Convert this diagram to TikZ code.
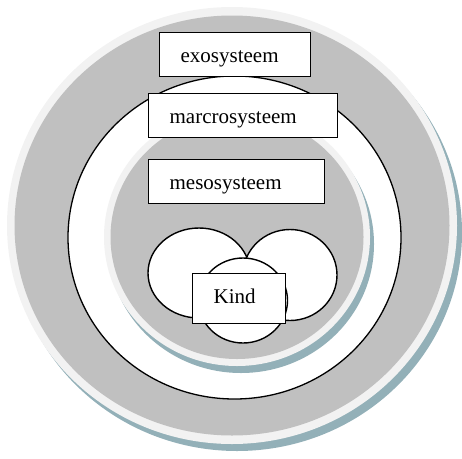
\documentclass[tikz,border=0pt]{standalone}
\usepackage{fontspec}
\setmainfont{Liberation Serif}
\definecolor{shadowc}{RGB}{147,176,184}
\definecolor{lightc}{RGB}{242,242,242}
\definecolor{greyc}{RGB}{192,192,192}
\begin{document}
\begin{tikzpicture}[x=1pt,y=-1pt,
  box/.style={draw=black, line width=1.3pt, fill=white, anchor=north west,
    inner xsep=21pt, inner ysep=0pt, align=left,
    font=\fontsize{21}{24}\selectfont, minimum height=44pt,
    text height=16pt, text depth=0pt},
  blob/.style={draw=black, line width=1.4pt, fill=white}]
\useasboundingbox (0,0) rectangle (462,458);
% outer ring (exosysteem)
\fill[shadowc] (237,232.5) ellipse [x radius=225, y radius=218.5];
\fill[lightc] (232,225.5) ellipse [x radius=225, y radius=218.5];
\fill[greyc] (232,225.5) ellipse [x radius=217.5, y radius=210];
% macro circle
\draw[blob, line width=1.3pt] (234.5,237.5) ellipse [x radius=166.5, y radius=161.5];
% inner ring (mesosysteem)
\fill[shadowc] (241,244) ellipse [x radius=133, y radius=129];
\fill[lightc] (237,237) ellipse [x radius=133, y radius=129];
\fill[greyc] (237,237) ellipse [x radius=126.5, y radius=122];
% micro circles
\draw[blob] (199,273) ellipse [x radius=51, y radius=45];
\draw[blob] (290,275) ellipse [x radius=47, y radius=45.5];
\draw[blob] (243,300.5) ellipse [x radius=44.5, y radius=42.5];
% labels
\node[box, text width=109pt] (exo) at (159,32) {exosysteem};
\node[box, text width=147pt] (macro) at (148,93) {marcrosysteem};
\node[box, text width=134pt] (meso) at (148,159) {mesosysteem};
\node[box, text width=51pt, minimum height=50pt, text height=10pt] (kind) at (192,273) {Kind};
\end{tikzpicture}
\end{document}
